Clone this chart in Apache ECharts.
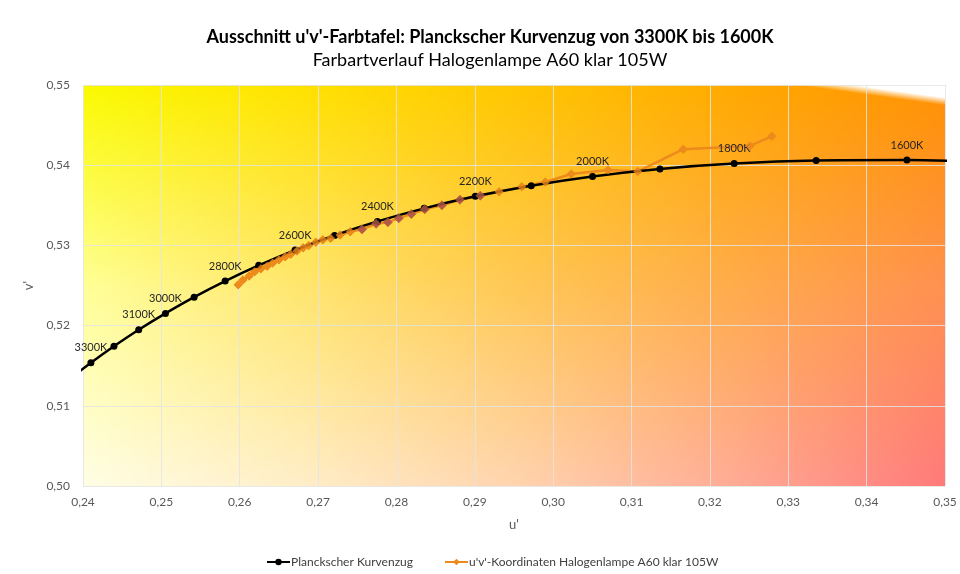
<!DOCTYPE html>
<html><head><meta charset="utf-8">
<script src="https://cdn.jsdelivr.net/npm/echarts@6/dist/echarts.min.js"></script>
<style>html,body{margin:0;padding:0;background:#fff}#c{width:960px;height:574px}</style>
</head><body><div id="c"></div><script>
// ---- data ----
const planckTemps = [3400,3300,3200,3100,3000,2900,2800,2700,2600,2500,2400,2300,2200,2100,2000,1900,1800,1700,1600,1500];
const planckU = [0.23827,0.24101,0.24395,0.24711,0.25052,0.25418,0.25814,0.26242,0.26706,0.27210,0.27757,0.28354,0.29006,0.29720,0.30502,0.31362,0.32310,0.33356,0.34514,0.35799];
const planckV = [0.51333,0.51537,0.51742,0.51948,0.52152,0.52355,0.52555,0.52751,0.52942,0.53125,0.53299,0.53462,0.53612,0.53745,0.53860,0.53953,0.54020,0.54058,0.54064,0.54034];
const planckLabels = ['','3300K','','3100K','3000K','','2800K','','2600K','','2400K','','2200K','','2000K','','1800K','','1600K',''];
const lampU = [0.2598,0.2604,0.2612,0.2619,0.2627,0.2635,0.2642,0.2650,0.2658,0.2665,0.2673,0.2681,0.2688,0.2697,0.2706,0.2716,0.2728,0.2741,
               0.2756,0.2774,0.2789,0.2803,0.2819,0.2836,0.2858,0.2881,0.2907,
               0.2931,0.2960,0.2990,0.3023,0.3070,0.3108,0.3166,0.3251,0.3279];
const lampV = [0.5251,0.5257,0.5262,0.5267,0.5271,0.5274,0.5278,0.5282,0.5286,0.5289,0.5293,0.5297,0.5300,0.5304,0.5307,0.5309,0.5313,0.5317,
               0.5320,0.5327,0.5329,0.5334,0.5339,0.5345,0.5350,0.5357,0.5362,
               0.5367,0.5373,0.5379,0.5389,0.5394,0.5392,0.5420,0.5424,0.5436];
const lampDarkIdx = [18,19,20,21,22,23,24,25,26];
const xMin = 0.24, xMax = 0.35, xStep = 0.01;
const yMin = 0.50, yMax = 0.55, yStep = 0.01;
const titleMain = "Ausschnitt u'v'-Farbtafel: Planckscher Kurvenzug von 3300K bis 1600K";
const titleSub = "Farbartverlauf Halogenlampe A60 klar 105W";
const nameBlack = "Planckscher Kurvenzug";
const nameOrange = "u'v'-Koordinaten Halogenlampe A60 klar 105W";

// ---- style ----
const FONT = 'Lato, "Open Sans", sans-serif';
const G = {left:83, top:85, width:862, height:401};
const ORANGE = '#EC8A1C', DARK = '#B35A4A';

function bgCanvas(w,h){
  const c = document.createElement('canvas'); c.width=w; c.height=h;
  const ctx = c.getContext('2d'); const img = ctx.createImageData(w,h);
  const cols=[0,0.25,0.5,0.75,1], rows=[0,0.5,1];
  const C=[
    [[250,250,0],[255,226,0],[255,198,0],[255,170,0],[255,146,0]],
    [[255,255,150],[255,230,110],[255,200,85],[255,172,75],[255,145,80]],
    [[255,253,228],[255,238,200],[255,212,175],[255,172,150],[255,122,122]]
  ];
  function seg(arr,f){ for(let i=0;i<arr.length-1;i++){ if(f<=arr[i+1]) return [i,(f-arr[i])/(arr[i+1]-arr[i])]; } return [arr.length-2,1]; }
  for(let y=0;y<h;y++){
    const [ri,rt]=seg(rows,y/(h-1));
    for(let x=0;x<w;x++){
      const [ci,ct]=seg(cols,x/(w-1));
      const p=(y*w+x)*4;
      const yb=(x-745)*16/117;
      let a=Math.max(0,Math.min(1,(yb-y)/8+0.5));
      for(let k=0;k<3;k++){
        const top=C[ri][ci][k]*(1-ct)+C[ri][ci+1][k]*ct;
        const bot=C[ri+1][ci][k]*(1-ct)+C[ri+1][ci+1][k]*ct;
        const v=top*(1-rt)+bot*rt;
        img.data[p+k]=Math.round(v*(1-a)+255*a);
      }
      img.data[p+3]=255;
    }
  }
  ctx.putImageData(img,0,0); return c;
}

const fmt = v => v.toFixed(2).replace('.',',');
const blackData = planckU.map((u,i)=>[u,planckV[i]]);
const lampData = lampU.map((u,i)=>{
  const d={value:[u,lampV[i]]};
  if(lampDarkIdx.indexOf(i)>=0) d.itemStyle={color:DARK,borderColor:'#C8702E',borderWidth:0.5};
  return d;
});

const chart = echarts.init(document.getElementById('c'));
chart.setOption({
  animation:false,
  backgroundColor:'#ffffff',
  title:[
    {text:titleMain,left:485,top:23,textAlign:'center',textStyle:{fontFamily:FONT,fontSize:18,fontWeight:'bold',color:'#000'}},
    {text:titleSub,left:485,top:46,textAlign:'center',textStyle:{fontFamily:FONT,fontSize:18,fontWeight:'normal',color:'#000'}}
  ],
  graphic:[{type:'image',left:G.left,top:G.top,z:-1,silent:true,style:{image:bgCanvas(G.width,G.height),width:G.width,height:G.height}}],
  grid:{left:G.left,top:G.top,width:G.width,height:G.height,containLabel:false},
  legend:{left:261,top:551,itemWidth:23,itemHeight:8,itemGap:31,
    data:[nameBlack,nameOrange],textStyle:{fontFamily:FONT,fontSize:12,color:'#404040',padding:[0,0,0,-4]}},
  xAxis:{type:'value',min:xMin,max:xMax,interval:xStep,name:"u'",nameLocation:'middle',nameGap:32,
    nameTextStyle:{fontFamily:FONT,fontSize:13,color:'#595959'},
    axisLine:{show:false},axisTick:{show:false},
    axisLabel:{formatter:fmt,fontFamily:FONT,fontSize:12,color:'#595959',margin:10},
    splitLine:{show:true,lineStyle:{color:'rgba(228,228,228,0.85)',width:1}}},
  yAxis:{type:'value',min:yMin,max:yMax,interval:yStep,name:"v'",nameLocation:'middle',nameGap:46,
    nameTextStyle:{fontFamily:FONT,fontSize:13,color:'#595959'},
    axisLine:{show:false},axisTick:{show:false},
    axisLabel:{formatter:fmt,fontFamily:FONT,fontSize:12,color:'#595959',margin:13},
    splitLine:{show:true,lineStyle:{color:'rgba(228,228,228,0.85)',width:1}}},
  series:[
    {name:nameBlack,type:'line',data:blackData,clip:true,smooth:0.3,z:3,
      symbol:'circle',symbolSize:7,showAllSymbol:true,
      lineStyle:{color:'#000',width:2.5},itemStyle:{color:'#000'},
      label:{show:true,position:'top',distance:6,fontFamily:FONT,fontSize:11,color:'#262626',
        formatter:p=>planckLabels[p.dataIndex]}},
    {name:nameOrange,type:'line',data:lampData,clip:true,z:2,
      symbol:'diamond',symbolSize:9,showAllSymbol:true,
      lineStyle:{color:ORANGE,width:2.5},itemStyle:{color:ORANGE}},
    {name:'lampMarkers',type:'scatter',data:lampData,z:4,symbol:'diamond',symbolSize:9,
      itemStyle:{color:ORANGE}}
  ]
});
</script></body></html>
